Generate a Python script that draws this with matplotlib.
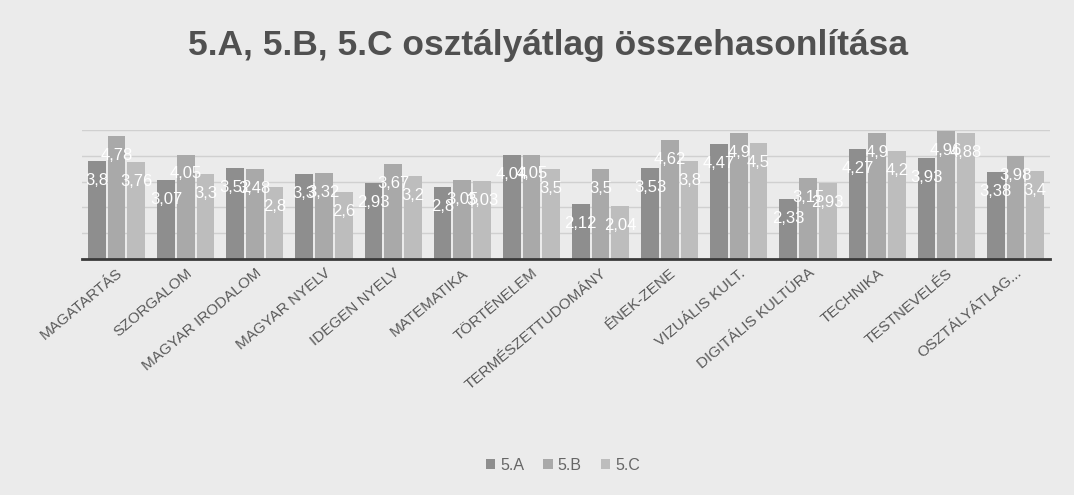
import matplotlib
matplotlib.use("Agg")
import matplotlib.pyplot as plt
import numpy as np

plt.rcParams["font.family"] = ["Liberation Sans", "DejaVu Sans"]

subjects = ["MAGATARTÁS", "SZORGALOM", "MAGYAR IRODALOM", "MAGYAR NYELV",
            "IDEGEN NYELV", "MATEMATIKA", "TÖRTÉNELEM", "TERMÉSZETTUDOMÁNY",
            "ÉNEK-ZENE", "VIZUÁLIS KULT.", "DIGITÁLIS KULTÚRA", "TECHNIKA",
            "TESTNEVELÉS", "OSZTÁLYÁTLAG..."]
class_a = [3.8, 3.07, 3.52, 3.3, 2.93, 2.8, 4.04, 2.12, 3.53, 4.47, 2.33, 4.27, 3.93, 3.38]
class_b = [4.78, 4.05, 3.48, 3.32, 3.67, 3.05, 4.05, 3.5, 4.62, 4.9, 3.15, 4.9, 4.96, 3.98]
class_c = [3.76, 3.3, 2.8, 2.6, 3.2, 3.03, 3.5, 2.04, 3.8, 4.5, 2.93, 4.2, 4.88, 3.4]
series = [("5.A", class_a, "#8e8e8e"), ("5.B", class_b, "#a9a9a9"), ("5.C", class_c, "#bdbdbd")]

W, H = 1074, 495
fig = plt.figure(figsize=(W / 100, H / 100), dpi=100, facecolor="#ebebeb")
ax = fig.add_axes([82 / W, 1 - 259 / H, (1050 - 82) / W, (259 - 130) / H])
ax.set_facecolor("none")

x = np.arange(len(subjects))
bw = 0.255
for i, (name, vals, col) in enumerate(series):
    pos = x + (i - 1) * (bw + 0.03)
    ax.bar(pos, vals, width=bw, color=col, label=name, zorder=2)
    for px, v in zip(pos, vals):
        ax.annotate(f"{v:g}".replace(".", ","), (px, v), xytext=(0, -14),
                    textcoords="offset points", ha="center", va="center",
                    color="white", fontsize=12, zorder=3)

ax.set_xlim(-0.5, len(subjects) - 0.5)
ax.set_ylim(0, 5)
ax.set_yticks([1, 2, 3, 4, 5])
ax.yaxis.grid(True, color="#d0d0d0", linewidth=1, zorder=0)
ax.tick_params(axis="y", length=0, labelleft=False)
ax.tick_params(axis="x", length=0, pad=5)
for s in ["top", "right", "left"]:
    ax.spines[s].set_visible(False)
ax.spines["bottom"].set_color("#3a3a3a")
ax.spines["bottom"].set_linewidth(2)

ax.set_xticks(x)
ax.set_xticklabels(subjects, rotation=40, ha="right", va="top",
                   rotation_mode="anchor", fontsize=11, color="#5a5a5a")

fig.text(0.51, 1 - 45 / H, "5.A, 5.B, 5.C osztályátlag összehasonlítása",
         ha="center", va="center", fontsize=25.5, fontweight="bold", color="#505050")

fig.legend(loc="center", bbox_to_anchor=(0.524, 1 - 465 / H), ncol=3, frameon=False,
           fontsize=11.5, labelcolor="#666666", handlelength=0.6, handleheight=0.6,
           handletextpad=0.3, columnspacing=1.2)

fig.savefig("out.png", dpi=100, facecolor=fig.get_facecolor())
